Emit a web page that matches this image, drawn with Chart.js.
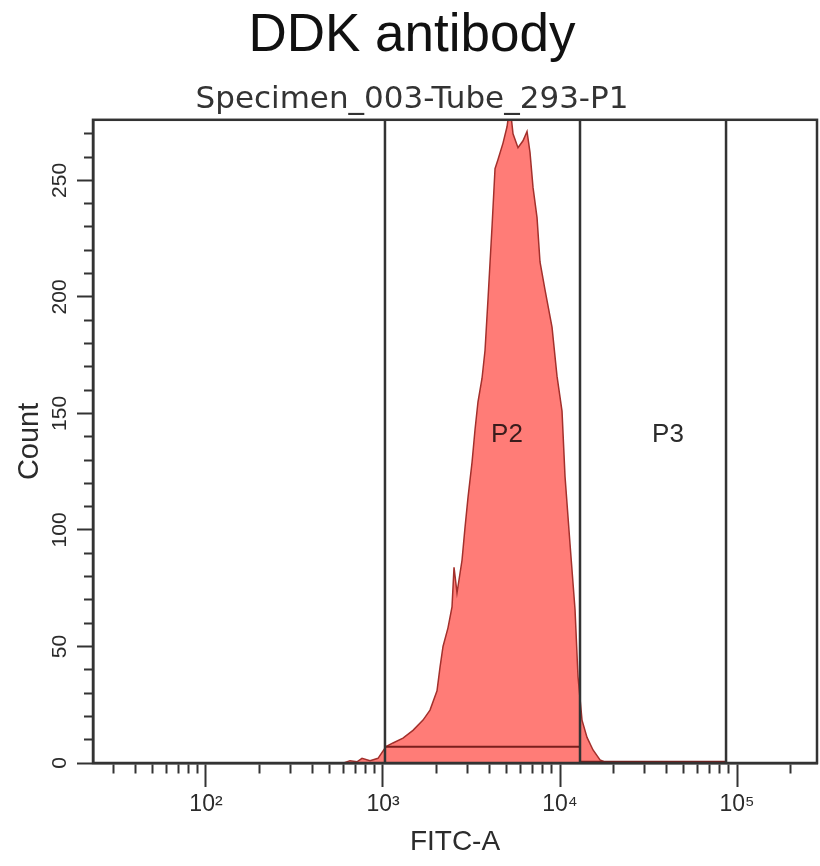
<!DOCTYPE html>
<html>
<head>
<meta charset="utf-8">
<script src="https://cdn.jsdelivr.net/npm/chart.js@4.4.1/dist/chart.umd.min.js"></script>
<style>
  html, body { margin: 0; padding: 0; background: #ffffff; }
  #wrap { position: relative; width: 820px; height: 866px; }
</style>
</head>
<body>
<div id="wrap"><canvas id="chart" width="820" height="866"></canvas></div>
<script>
// ---- data ----
const chartTitle = 'DDK antibody';
const chartSubtitle = 'Specimen_003-Tube_293-P1';
const xAxisTitle = 'FITC-A';
const yAxisTitle = 'Count';

// FITC-A intensity (histogram bin positions) and event counts
const fitcValues = [600, 651, 713, 761, 845, 937, 1040, 1139, 1297, 1477, 1683, 1843, 2019, 2099, 2183, 2329,
  2454, 2519, 2619, 2795, 2906, 3022, 3184, 3310, 3441, 3625, 3770, 3919, 4129, 4294, 4464, 4764,
  5019, 5218, 5426, 5790, 6180, 6511, 6768, 7039, 7416, 7709, 8228, 9013, 9618, 10264, 10672,
  11390, 12154, 12639, 13314, 14209, 15366, 16827, 18433, 20450, 23290, 28310, 36730];
const counts = [0, 1, 0.5, 2, 1, 2, 7, 8.6, 10.7, 14, 18.4, 22.7, 31, 41, 50, 58,
  67, 84, 73, 87, 101, 114, 129, 143, 155, 165, 177, 199, 230, 255, 259, 266,
  273, 282, 270, 264, 267, 271, 262, 247, 234, 215, 203, 187, 166, 151, 123,
  94, 66, 37, 18.4, 11, 5.6, 1.3, 0, 0.5, 0, 0.5, 0];

// gates
const gateNames = ['P2', 'P3'];
const gateStarts = [1026, 12970];
const gateEnds = [12970, 86680];
const gateLevels = [7, 0.5];
const gateLabelX = [5019, 40740];
const gateLabelY = [141, 141];

// axes
const xMin = 23, xMax = 283000;
const yMin = 0, yMax = 276;
const xMajorTicks = [100, 1000, 10000, 100000];
const xMajorLabels = ['10\u00B2', '10\u00B3', '10\u2074', '10\u2075'];
const yTickLabels = [0, 50, 100, 150, 200, 250];
const yMinorStep = 10;

// ---- build ----
const xTickValues = [];
for (let e = 1; e <= 5; e++) {
  for (let d = 1; d <= 9; d++) {
    const v = d * Math.pow(10, e);
    if (v >= xMin && v <= xMax) xTickValues.push(v);
  }
}
const yTickValues = [];
for (let v = yMin; v <= 270; v += yMinorStep) yTickValues.push(v);

const histPoints = fitcValues.map((v, i) => ({ x: v, y: counts[i] }));

const INK = '#2b2b2b';
const FONT = "'Liberation Sans', Arial, sans-serif";

const datasets = [];
// gate boundaries (vertical lines)
const bounds = Array.from(new Set(gateStarts.concat(gateEnds)));
bounds.forEach(b => {
  datasets.push({
    label: 'gate ' + b,
    data: [{ x: b, y: yMin }, { x: b, y: yMax }],
    borderColor: '#333333', borderWidth: 2.5, pointRadius: 0, fill: false, order: 0
  });
});
// gate levels (horizontal lines)
gateNames.forEach((n, i) => {
  datasets.push({
    label: n + ' level',
    data: [{ x: gateStarts[i], y: gateLevels[i] }, { x: gateEnds[i], y: gateLevels[i] }],
    borderColor: '#7a1e1c', borderWidth: 2, pointRadius: 0, fill: false, order: 1
  });
});
// histogram
datasets.push({
  label: 'FITC-A',
  data: histPoints,
  fill: 'origin',
  backgroundColor: 'rgb(255,124,119)',
  borderColor: '#a3302c',
  borderWidth: 1.5,
  pointRadius: 0,
  tension: 0,
  order: 2
});

const frameAndLabels = {
  id: 'frameAndLabels',
  afterDatasetsDraw(chart) {
    const { ctx, chartArea, scales } = chart;
    ctx.save();
    ctx.strokeStyle = '#333333';
    ctx.lineWidth = 2.5;
    ctx.strokeRect(chartArea.left, chartArea.top, chartArea.right - chartArea.left, chartArea.bottom - chartArea.top);
    ctx.font = '26px ' + FONT;
    ctx.textAlign = 'center';
    ctx.textBaseline = 'middle';
    gateNames.forEach((n, i) => {
      ctx.fillStyle = i === 0 ? '#3a1c1c' : INK;
      ctx.fillText(n, scales.x.getPixelForValue(gateLabelX[i]), scales.y.getPixelForValue(gateLabelY[i]));
    });
    ctx.restore();
  }
};

new Chart(document.getElementById('chart'), {
  type: 'line',
  data: { datasets },
  plugins: [frameAndLabels],
  options: {
    responsive: false,
    animation: false,
    events: [],
    layout: { padding: { left: 7, right: 3, top: 0, bottom: 0 } },
    plugins: {
      legend: { display: false },
      tooltip: { enabled: false },
      title: {
        display: true, text: chartTitle, color: '#111111',
        font: { family: FONT, size: 53, weight: 'normal' },
        padding: { top: 5, bottom: 0 }
      },
      subtitle: {
        display: true, text: chartSubtitle, color: '#333333',
        font: { family: "'DejaVu Sans', Verdana, sans-serif", size: 31, weight: 'normal' },
        padding: { top: 13, bottom: 1 }
      }
    },
    scales: {
      x: {
        type: 'logarithmic', min: xMin, max: xMax,
        afterBuildTicks(scale) {
          scale.ticks = xTickValues.map(v => ({ value: v, major: false }));
        },
        afterFit(scale) { scale.height = 103; },
        ticks: {
          autoSkip: false, minRotation: 0, maxRotation: 0, padding: 4,
          color: INK, font: { family: FONT, size: 23 },
          callback(value) {
            const i = xMajorTicks.indexOf(value);
            return i >= 0 ? xMajorLabels[i] : '';
          }
        },
        grid: {
          display: true, drawOnChartArea: false, drawTicks: true,
          tickLength: 24, tickColor: '#333333', tickWidth: 2,
          tickBorderDash: (c) => (c.tick && xMajorTicks.includes(c.tick.value)) ? [] : [9, 60]
        },
        border: { display: true, color: '#333333', width: 2.5 },
        title: {
          display: true, text: xAxisTitle, color: INK,
          font: { family: FONT, size: 28 }, padding: { top: 0, bottom: 7 }
        }
      },
      y: {
        type: 'linear', min: yMin, max: yMax,
        afterBuildTicks(scale) {
          scale.ticks = yTickValues.map(v => ({ value: v }));
        },
        afterFit(scale) { scale.width = 86; },
        ticks: {
          autoSkip: false, minRotation: 90, maxRotation: 90, crossAlign: 'center', padding: -1,
          color: INK, font: { family: FONT, size: 21 },
          callback(value) { return yTickLabels.includes(value) ? String(value) : ''; }
        },
        grid: {
          display: true, drawOnChartArea: false, drawTicks: true,
          tickLength: 16, tickColor: '#333333', tickWidth: 2,
          tickBorderDash: (c) => (c.tick && yTickLabels.includes(c.tick.value)) ? [] : [0, 7, 10, 0]
        },
        border: { display: true, color: '#333333', width: 2.5 },
        title: {
          display: true, text: yAxisTitle, color: INK,
          font: { family: FONT, size: 29 }, padding: { top: 6, bottom: 0 }
        }
      }
    }
  }
});
</script>
</body>
</html>
